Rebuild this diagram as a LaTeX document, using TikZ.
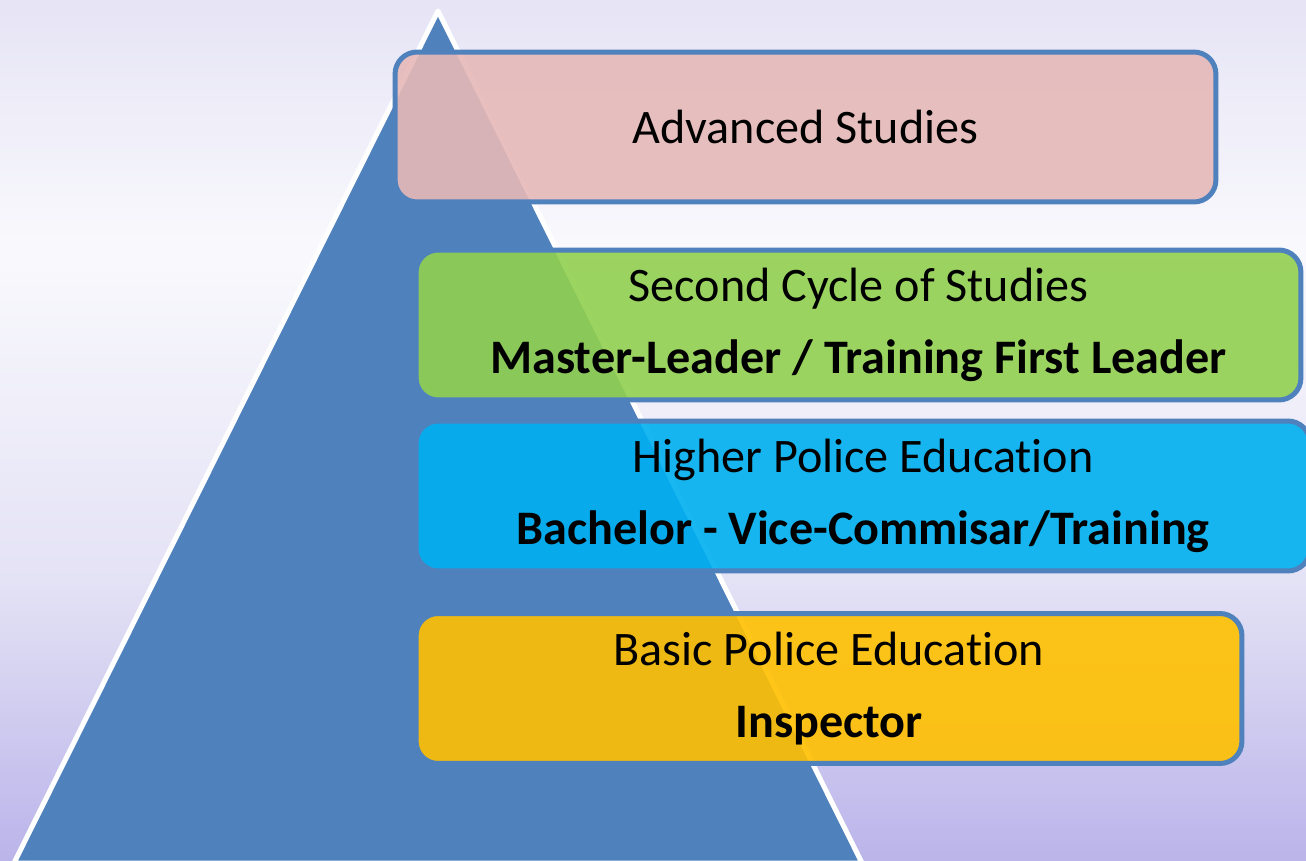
\documentclass[tikz,border=0pt]{standalone}
\usepackage{fontspec}
\setmainfont{Carlito}[Ligatures=NoCommon]
\definecolor{pyrblue}{HTML}{4F81BD}
\definecolor{advpink}{HTML}{E6B9B8}
\definecolor{cyclegreen}{HTML}{92D050}
\definecolor{highcyan}{HTML}{00B0F0}
\definecolor{basicyellow}{HTML}{FFC000}
\definecolor{bgtop}{HTML}{E6E4F5}
\definecolor{bgmid}{HTML}{F9F9FD}
\definecolor{bglow}{HTML}{E4E2F5}
\definecolor{bgbottom}{HTML}{BAB4EA}
\tikzset{
  level/.style={draw=pyrblue, line width=0.1cm, rounded corners=0.44cm,
    fill opacity=0.9, text opacity=1, align=center, inner sep=0pt,
    minimum height=3cm, font=\fontsize{27.4}{41}\selectfont}
}
\begin{document}
\begin{tikzpicture}[x=0.02cm,y=-0.02cm]
				\clip (0,0) rectangle (1306,861);
				% background
				\shade[top color=bgtop, bottom color=bgmid] (0,0) rectangle (1306,250);
				\shade[top color=bgmid, bottom color=bglow] (0,250) rectangle (1306,580);
				\shade[top color=bglow, bottom color=bgbottom] (0,580) rectangle (1306,862);
				% pyramid
				\coordinate (apex) at (438,11);
				\coordinate (baseL) at (14,863);
				\coordinate (baseR) at (862,863);
				\draw[white, line width=0.1cm, line join=round, fill=pyrblue] (apex) -- (baseL) -- (baseR) -- cycle;
				% levels
				\node[level, fill=advpink, minimum width=16.42cm] (adv) at (805.5,127) {Advanced Studies};
				\node[level, fill=cyclegreen, minimum width=17.7cm] (second) at (858.5,325)
				  {Second Cycle of Studies\\\textbf{Master-Leader / Training First Leader}};
				\node[level, fill=highcyan, minimum width=17.88cm] (higher) at (863,496)
				  {Higher Police Education\\\textbf{Bachelor - Vice-Commisar/Training}};
				\node[level, fill=basicyellow, minimum width=16.52cm] (basic) at (829,688.5)
				  {Basic Police Education\\\textbf{Inspector}};
				\end{tikzpicture}
\end{document}
